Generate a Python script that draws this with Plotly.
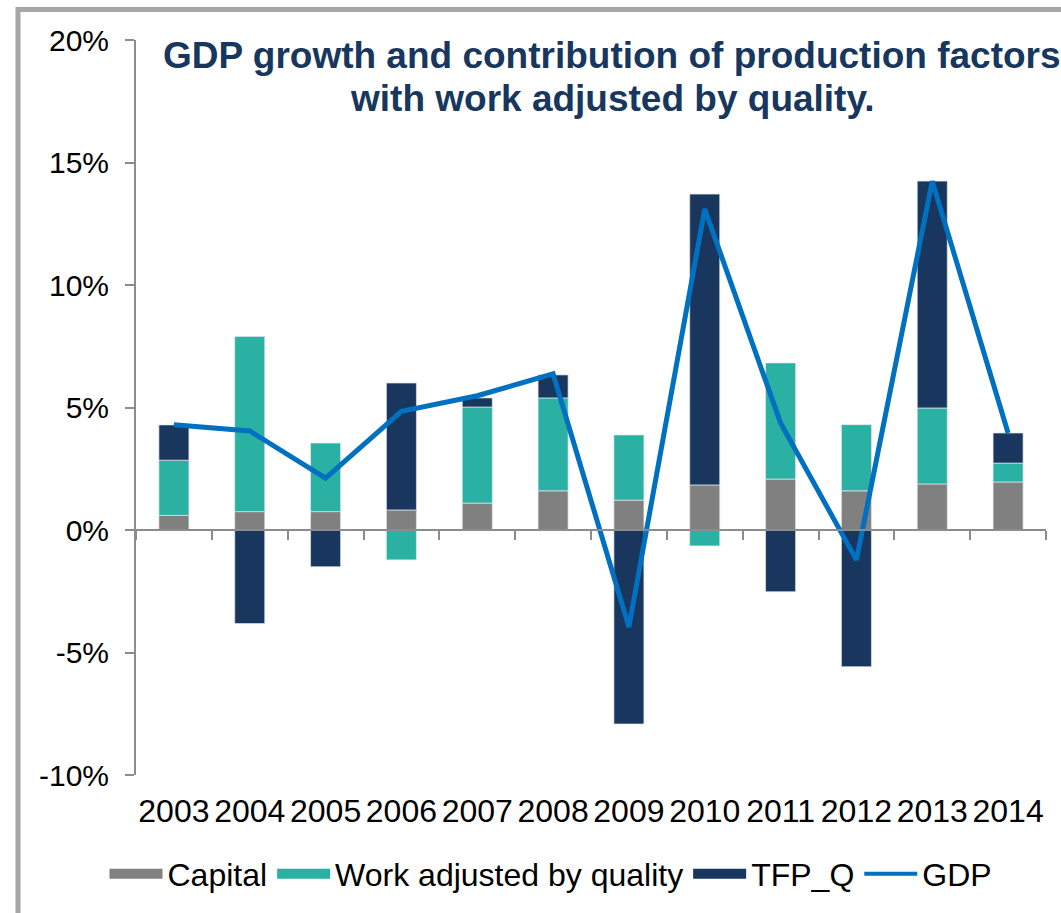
import plotly.graph_objects as go

# Contribution to GDP growth (percentage points) and GDP growth (%)
years = ["2003", "2004", "2005", "2006", "2007", "2008",
         "2009", "2010", "2011", "2012", "2013", "2014"]
capital = [0.6, 0.75, 0.75, 0.82, 1.1, 1.6, 1.22, 1.84, 2.08, 1.6, 1.88, 1.96]
work_quality = [2.25, 7.15, 2.8, -1.22, 3.92, 3.79, 2.66, -0.65, 4.74, 2.7, 3.1, 0.77]
tfp_q = [1.44, -3.82, -1.5, 5.18, 0.37, 0.94, -7.92, 11.87, -2.52, -5.58, 9.26, 1.23]
gdp = [4.3, 4.04, 2.12, 4.84, 5.48, 6.37, -3.96, 13.1, 4.37, -1.22, 14.24, 3.96]

y_ticks = [-10, -5, 0, 5, 10, 15, 20]

GRAY = "#808080"
TEAL = "#2AB1A4"
NAVY = "#19375E"
BLUE = "#0070C0"
TITLE_COLOR = "#17375E"
AXIS_COLOR = "#8C8C8C"
FONT = "Liberation Sans, Arial, sans-serif"

W, H = 1061, 913
ML, MR, MT, MB = 136, 15, 40, 138
PLOT_W, PLOT_H = W - ML - MR, H - MT - MB


def px_x(px):
    return (px - ML) / PLOT_W


def px_y(py):
    return (H - MB - py) / PLOT_H


fig = go.Figure()

bar_edge = dict(width=1, color="rgba(225,230,235,0.7)")
for name, vals, color in [("Capital", capital, GRAY),
                          ("Work adjusted by quality", work_quality, TEAL),
                          ("TFP_Q", tfp_q, NAVY)]:
    fig.add_trace(go.Bar(x=years, y=vals, name=name, marker=dict(color=color, line=bar_edge),
                         showlegend=False))

fig.add_trace(go.Scatter(x=years, y=gdp, name="GDP", mode="lines",
                         line=dict(color=BLUE, width=5), showlegend=False))

# Legend entries drawn as wide swatches
for name, color, width in [("Capital", GRAY, 16), ("Work adjusted by quality", TEAL, 16),
                           ("TFP_Q", NAVY, 16), ("GDP", BLUE, 4)]:
    fig.add_trace(go.Scatter(x=[None], y=[None], name=name, mode="lines",
                             line=dict(color=color, width=width), showlegend=True))

fig.update_layout(
    width=W, height=H,
    margin=dict(l=ML, r=MR, t=MT, b=MB),
    paper_bgcolor="white", plot_bgcolor="white",
    barmode="relative", bargap=0.604,
    font=dict(family=FONT, color="black", size=30),
    showlegend=True,
    legend=dict(orientation="h", x=px_x(551), y=px_y(874), xanchor="center", yanchor="middle",
                font=dict(size=32, color="black", family=FONT), itemwidth=53,
                bgcolor="rgba(0,0,0,0)", traceorder="normal"),
    xaxis=dict(type="category", categoryorder="array", categoryarray=years,
               range=[-0.5, len(years) - 0.5], showline=False, showgrid=False, zeroline=False,
               ticks="outside", ticklen=8, tickcolor="rgba(0,0,0,0)",
               tickfont=dict(size=32, color="black", family=FONT)),
    xaxis2=dict(overlaying="x", anchor="free", position=px_y(530), type="linear",
                range=[-0.5, len(years) - 0.5], showline=True, linecolor=AXIS_COLOR, linewidth=2,
                ticks="outside", ticklen=9, tickwidth=1.5, tickcolor=AXIS_COLOR,
                tickmode="array", tickvals=[i - 0.5 for i in range(len(years) + 1)],
                showticklabels=False, showgrid=False, zeroline=False),
    yaxis=dict(range=[-10, 20], tickmode="array", tickvals=y_ticks,
               ticktext=[f"{v}%" for v in y_ticks],
               showline=True, linecolor=AXIS_COLOR, linewidth=2,
               ticks="outside", ticklen=9, tickwidth=1.5, tickcolor=AXIS_COLOR,
               showgrid=False, zeroline=False, ticklabelstandoff=10,
               tickfont=dict(size=30, color="black", family=FONT)),
)

# Hidden trace to activate the zero-line axis
fig.add_trace(go.Scatter(x=[0], y=[0], xaxis="x2", mode="markers",
                         marker=dict(opacity=0), showlegend=False, hoverinfo="skip"))

fig.add_annotation(text="<b>GDP growth and contribution of production factors</b>",
                   xref="paper", yref="paper", x=px_x(612), y=px_y(55),
                   xanchor="center", yanchor="middle", showarrow=False,
                   font=dict(size=37, color=TITLE_COLOR, family=FONT))
fig.add_annotation(text="<b>with work adjusted by quality.</b>",
                   xref="paper", yref="paper", x=px_x(612), y=px_y(98),
                   xanchor="center", yanchor="middle", showarrow=False,
                   font=dict(size=37, color=TITLE_COLOR, family=FONT))

# Outer frame
fig.add_shape(type="rect", xref="paper", yref="paper",
              x0=px_x(18), y0=px_y(9.5), x1=px_x(1200), y1=px_y(1100),
              line=dict(color="#A6A6A6", width=5), fillcolor="rgba(0,0,0,0)", layer="below")

fig.write_html("out.html")
